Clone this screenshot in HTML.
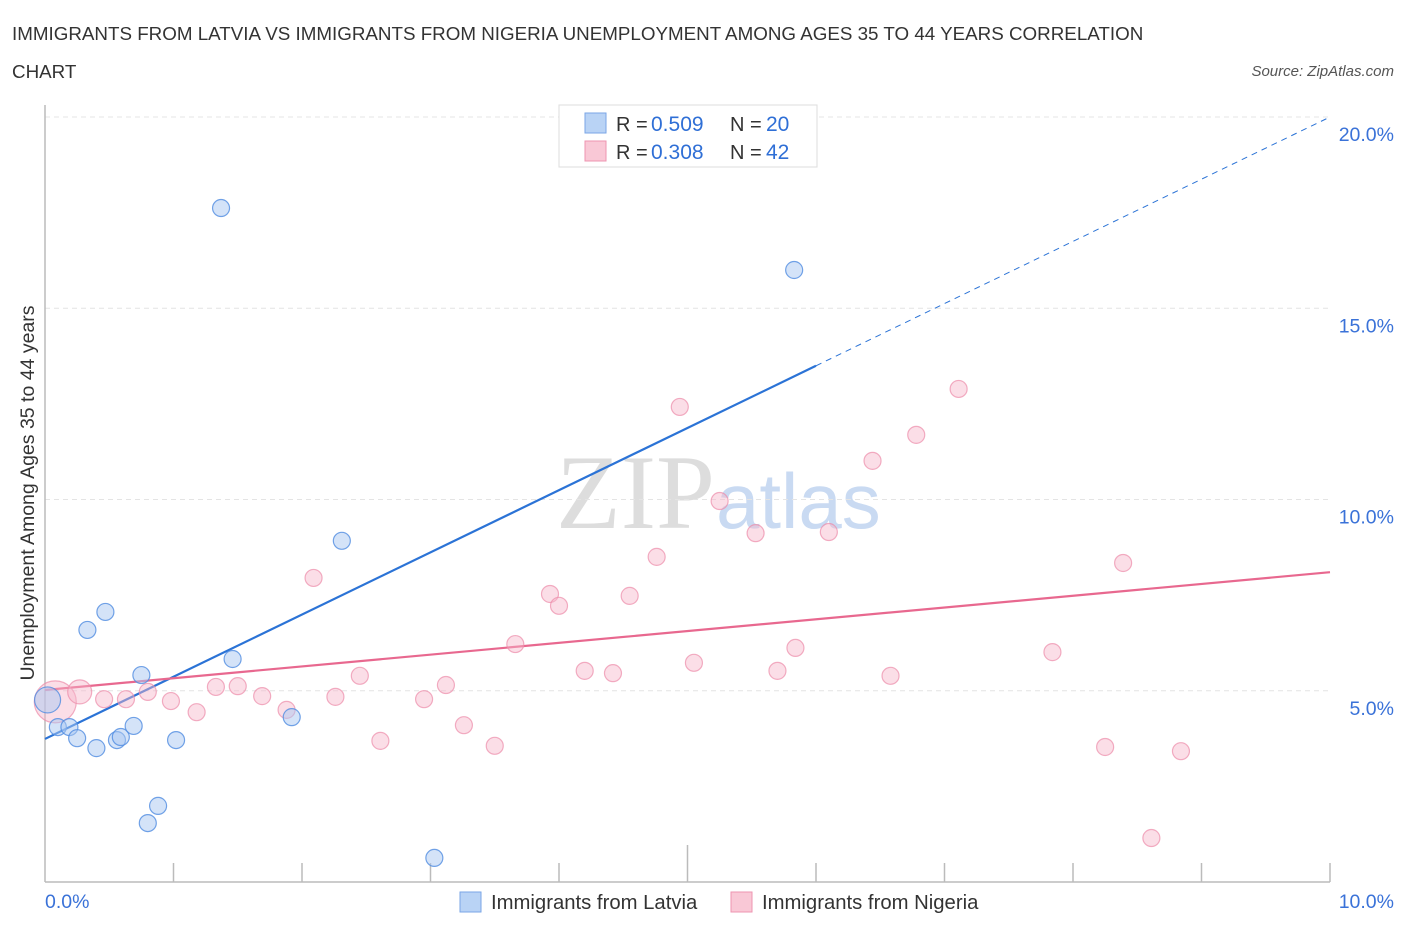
<!DOCTYPE html>
<html><head><meta charset="utf-8"><style>
body{margin:0;background:#fff;font-family:"Liberation Sans",sans-serif;}
svg text{font-family:"Liberation Sans",sans-serif;}
</style></head><body>
<svg id="chart" width="1406" height="930" viewBox="0 0 1406 930">
<text x="12" y="40" font-size="18.8" fill="#333">IMMIGRANTS FROM LATVIA VS IMMIGRANTS FROM NIGERIA UNEMPLOYMENT AMONG AGES 35 TO 44 YEARS CORRELATION</text>
<text x="12" y="78" font-size="18.8" fill="#333">CHART</text>
<text x="1394" y="76" font-size="15" fill="#555" font-style="italic" text-anchor="end">Source: ZipAtlas.com</text>
<text x="715" y="528" font-size="106" fill="#ddd" text-anchor="end" style="font-family:'Liberation Serif',serif">ZIP</text>
<text x="716" y="528" font-size="78" fill="#c9daf2">atlas</text>
<g id="grid"></g>
<g id="axes"></g>
<g id="lines"></g>
<g id="pts"></g>
<text transform="translate(34,493) rotate(-90)" font-size="19.5" fill="#333" text-anchor="middle">Unemployment Among Ages 35 to 44 years</text>
<g>
<rect x="559" y="105" width="258" height="62" fill="#fff" stroke="#ddd"/>
<rect x="585" y="113" width="21" height="20" fill="#b9d3f5" stroke="#7aa6e6"/>
<rect x="585" y="141" width="21" height="20" fill="#f9c8d6" stroke="#ee94b0"/>
<text x="616" y="131" font-size="20" fill="#333">R = </text><text x="651" y="131" font-size="21" fill="#2f6fd6">0.509</text>
<text x="730" y="131" font-size="20" fill="#333">N = </text><text x="766" y="131" font-size="21" fill="#2f6fd6">20</text>
<text x="616" y="159" font-size="20" fill="#333">R = </text><text x="651" y="159" font-size="21" fill="#2f6fd6">0.308</text>
<text x="730" y="159" font-size="20" fill="#333">N = </text><text x="766" y="159" font-size="21" fill="#2f6fd6">42</text>
</g>
<g>
<rect x="460" y="892" width="21" height="20" fill="#b9d3f5" stroke="#7aa6e6"/>
<text x="491" y="909" font-size="20.3" fill="#333">Immigrants from Latvia</text>
<rect x="731" y="892" width="21" height="20" fill="#f9c8d6" stroke="#ee94b0"/>
<text x="762" y="909" font-size="20.3" fill="#333">Immigrants from Nigeria</text>
</g>
</svg>
<script>
const latviaX=[1.37,5.83,2.31,0.47,0.33,0.75,1.46,0.02,0.10,0.19,0.25,0.40,0.56,0.59,0.69,1.02,1.92,0.88,0.80,3.03];
const latviaY=[17.62,16.0,8.92,7.06,6.59,5.41,5.83,4.76,4.05,4.05,3.76,3.50,3.71,3.79,4.08,3.71,4.31,1.99,1.54,0.63];
const nigeriaX=[0.08,0.27,0.46,0.63,0.80,0.98,1.18,1.33,1.50,1.69,1.88,2.09,2.26,2.45,2.61,2.95,3.12,3.26,3.50,3.66,3.93,4.00,4.20,4.42,4.55,4.76,4.94,5.05,5.25,5.53,5.70,5.84,6.10,6.44,6.58,6.78,7.11,7.84,8.25,8.39,8.61,8.84];
const nigeriaY=[4.71,4.97,4.78,4.78,4.97,4.73,4.44,5.10,5.12,4.86,4.50,7.95,4.84,5.39,3.69,4.78,5.15,4.10,3.56,6.22,7.53,7.22,5.52,5.46,7.48,8.50,12.42,5.73,9.96,9.12,5.52,6.12,9.15,11.01,5.39,11.69,12.89,6.01,3.53,8.34,1.15,3.42];
const yTicks=[5,10,15,20];
const yTickLabels=["5.0%","10.0%","15.0%","20.0%"];
const xTickLabels=["0.0%","10.0%"];
const latviaTrend=[3.74,20.0];
const nigeriaTrend=[5.02,8.1];
const NS="http://www.w3.org/2000/svg";
const sx=v=>45+v*128.5, sy=v=>882-v*38.25;
function mk(tag,attrs,parent){const e=document.createElementNS(NS,tag);for(const k in attrs)e.setAttribute(k,attrs[k]);document.getElementById(parent).appendChild(e);return e;}
yTicks.forEach((t,i)=>{
 const g=mk('line',{x1:45,x2:1330,y1:sy(t),y2:sy(t),stroke:'#e4e4e4','stroke-dasharray':'5,4'},'grid');
 
 
 const l=mk('text',{x:1394,y:sy(t)+24,'font-size':19.5,fill:'#3a72d8','text-anchor':'end'},'axes');l.textContent=yTickLabels[i];
 
 
});
const ax=mk('line',{x1:45,x2:1330,y1:882,y2:882,stroke:'#bbb','stroke-width':1.5},'axes');


const ay=mk('line',{x1:45,x2:45,y1:105,y2:882,stroke:'#bbb','stroke-width':1.5},'axes');


for(let i=1;i<=10;i++){const t=mk('line',{x1:sx(i),x2:sx(i),y1:i==5?845:863,y2:882,stroke:'#bbb','stroke-width':1.5},'axes');
 
 }
[[0,'start',45],[10,'end',1394]].forEach((a,i)=>{const l=mk('text',{x:a[2],y:908,'font-size':19.5,fill:'#3a72d8','text-anchor':a[1]},'axes');l.textContent=xTickLabels[i];
 
 });
const bxEnd=6.0;
const by=x=>latviaTrend[0]+(latviaTrend[1]-latviaTrend[0])*x/10;
const b1=mk('line',{x1:sx(0),y1:sy(by(0)),x2:sx(bxEnd),y2:sy(by(bxEnd)),stroke:'#2b73d6','stroke-width':2.2},'lines');


const b2=mk('line',{x1:sx(bxEnd),y1:sy(by(bxEnd)),x2:sx(10),y2:sy(by(10)),stroke:'#2b73d6','stroke-width':1,'stroke-dasharray':'6,5'},'lines');


const p1=mk('line',{x1:sx(0),y1:sy(nigeriaTrend[0]),x2:sx(10),y2:sy(nigeriaTrend[1]),stroke:'#e8688f','stroke-width':2.2},'lines');


nigeriaX.forEach((x,i)=>{const r=i==0?21:(i==1?12:8.5);
 const c=mk('circle',{cx:sx(x),cy:sy(nigeriaY[i]),r:r,fill:'rgba(247,182,202,0.45)',stroke:'rgba(236,140,170,0.7)','stroke-width':1.2},'pts');
 
 });
latviaX.forEach((x,i)=>{const r=i==7?13:8.5;
 const c=mk('circle',{cx:sx(x),cy:sy(latviaY[i]),r:r,fill:'rgba(170,200,242,0.5)',stroke:'rgba(80,140,225,0.8)','stroke-width':1.2},'pts');
 
 });
</script>
</body></html>
